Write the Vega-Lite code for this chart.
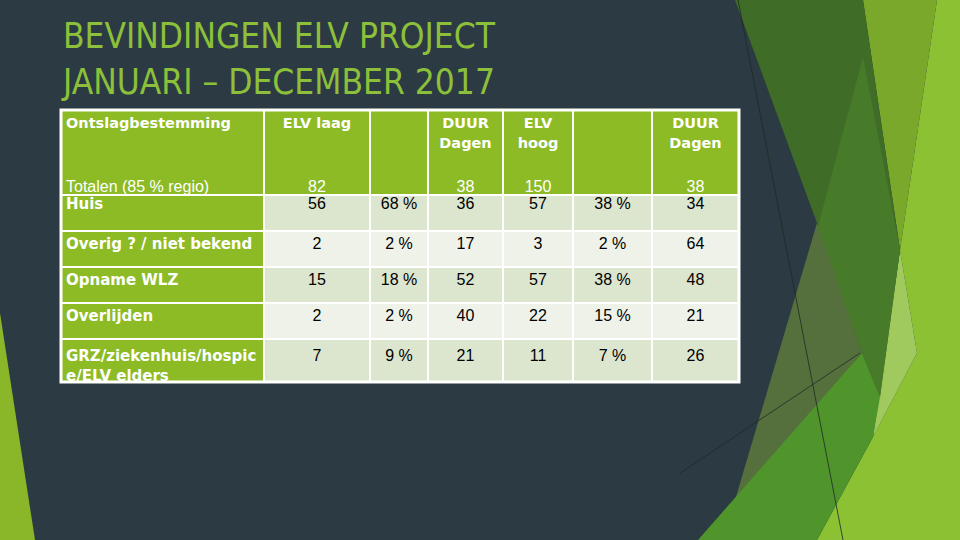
{
  "$schema": "https://vega.github.io/schema/vega-lite/v6.json",
  "width": 960,
  "height": 540,
  "autosize": {"type": "fit", "contains": "padding"},
  "padding": 0,
  "background": "#2c3a43",
  "config": {"view": {"stroke": null}},
  "datasets": {
    "decor": [
      {"type": "Feature", "properties": {"vorm": "limoen"}, "geometry": {"type": "Polygon", "coordinates": [[[937,0],[960,0],[960,540],[817,540],[873,437],[917,353],[900,250],[937,0]]]}},
      {"type": "Feature", "properties": {"vorm": "lichtolijf"}, "geometry": {"type": "Polygon", "coordinates": [[[863,0],[937,0],[900,250],[863,0]]]}},
      {"type": "Feature", "properties": {"vorm": "bleek"}, "geometry": {"type": "Polygon", "coordinates": [[[900,250],[917,353],[873,437],[900,250]]]}},
      {"type": "Feature", "properties": {"vorm": "donkergroen"}, "geometry": {"type": "Polygon", "coordinates": [[[735,0],[863,0],[900,250],[880,397],[862,353],[817,223],[735,0]]]}},
      {"type": "Feature", "properties": {"vorm": "middengroen"}, "geometry": {"type": "Polygon", "coordinates": [[[863,57],[900,250],[880,397],[862,353],[817,230],[863,57]]]}},
      {"type": "Feature", "properties": {"vorm": "olijf"}, "geometry": {"type": "Polygon", "coordinates": [[[817,223],[862,353],[733,507],[817,223]]]}},
      {"type": "Feature", "properties": {"vorm": "felgroen"}, "geometry": {"type": "Polygon", "coordinates": [[[862,353],[880,397],[873,437],[817,540],[698,540],[862,353]]]}},
      {"type": "Feature", "properties": {"vorm": "links"}, "geometry": {"type": "Polygon", "coordinates": [[[0,313],[35,540],[0,540],[0,313]]]}}
    ],
    "lijnen": [
      {"type": "Feature", "properties": {"vorm": "lijn"}, "geometry": {"type": "LineString", "coordinates": [[738,0],[843,540]]}},
      {"type": "Feature", "properties": {"vorm": "lijn"}, "geometry": {"type": "LineString", "coordinates": [[680,473],[860,353]]}}
    ],
    "titel": [
      {"regel": -2, "tekst": "BEVINDINGEN ELV PROJECT"},
      {"regel": -1, "tekst": "JANUARI – DECEMBER 2017"}
    ],
    "cellen": [
      {"rij": 0, "kol": 0, "tekst": "Ontslagbestemming", "totaal": "Totalen (85 % regio)"},
      {"rij": 0, "kol": 1, "tekst": "ELV laag", "totaal": "82"},
      {"rij": 0, "kol": 2, "tekst": "", "totaal": ""},
      {"rij": 0, "kol": 3, "tekst": "DUUR\nDagen", "totaal": "38"},
      {"rij": 0, "kol": 4, "tekst": "ELV\nhoog", "totaal": "150"},
      {"rij": 0, "kol": 5, "tekst": "", "totaal": ""},
      {"rij": 0, "kol": 6, "tekst": "DUUR\nDagen", "totaal": "38"},
      {"rij": 1, "kol": 0, "tekst": "Huis"},
      {"rij": 1, "kol": 1, "tekst": "56"},
      {"rij": 1, "kol": 2, "tekst": "68 %"},
      {"rij": 1, "kol": 3, "tekst": "36"},
      {"rij": 1, "kol": 4, "tekst": "57"},
      {"rij": 1, "kol": 5, "tekst": "38 %"},
      {"rij": 1, "kol": 6, "tekst": "34"},
      {"rij": 2, "kol": 0, "tekst": "Overig ? / niet bekend"},
      {"rij": 2, "kol": 1, "tekst": "2"},
      {"rij": 2, "kol": 2, "tekst": "2 %"},
      {"rij": 2, "kol": 3, "tekst": "17"},
      {"rij": 2, "kol": 4, "tekst": "3"},
      {"rij": 2, "kol": 5, "tekst": "2 %"},
      {"rij": 2, "kol": 6, "tekst": "64"},
      {"rij": 3, "kol": 0, "tekst": "Opname WLZ"},
      {"rij": 3, "kol": 1, "tekst": "15"},
      {"rij": 3, "kol": 2, "tekst": "18 %"},
      {"rij": 3, "kol": 3, "tekst": "52"},
      {"rij": 3, "kol": 4, "tekst": "57"},
      {"rij": 3, "kol": 5, "tekst": "38 %"},
      {"rij": 3, "kol": 6, "tekst": "48"},
      {"rij": 4, "kol": 0, "tekst": "Overlijden"},
      {"rij": 4, "kol": 1, "tekst": "2"},
      {"rij": 4, "kol": 2, "tekst": "2 %"},
      {"rij": 4, "kol": 3, "tekst": "40"},
      {"rij": 4, "kol": 4, "tekst": "22"},
      {"rij": 4, "kol": 5, "tekst": "15 %"},
      {"rij": 4, "kol": 6, "tekst": "21"},
      {"rij": 5, "kol": 0, "tekst": "GRZ/ziekenhuis/hospic\ne/ELV elders"},
      {"rij": 5, "kol": 1, "tekst": "7"},
      {"rij": 5, "kol": 2, "tekst": "9 %"},
      {"rij": 5, "kol": 3, "tekst": "21"},
      {"rij": 5, "kol": 4, "tekst": "11"},
      {"rij": 5, "kol": 5, "tekst": "7 %"},
      {"rij": 5, "kol": 6, "tekst": "26"}
    ]
  },
  "resolve": {"scale": {"color": "independent"}},
  "layer": [
    {
      "data": {"name": "decor"},
      "mark": {"type": "geoshape", "stroke": null},
      "projection": {"type": "identity", "scale": 1, "translate": [0, 0]},
      "encoding": {
        "color": {"field": "properties.vorm", "type": "nominal", "legend": null,
          "scale": {"domain": ["limoen","lichtolijf","bleek","donkergroen","middengroen","olijf","felgroen","links"],
                    "range": ["#8dc134","#79a82b","#a0c95e","#3f6c27","#477a29","#56703d","#4f952b","#8ab62a"]}}
      }
    },
    {
      "data": {"name": "lijnen"},
      "mark": {"type": "geoshape", "filled": false, "stroke": "#1f2b27", "strokeWidth": 1, "strokeOpacity": 0.8},
      "projection": {"type": "identity", "scale": 1, "translate": [0, 0]},
      "encoding": {}
    },
    {
      "data": {"name": "titel"},
      "mark": {"type": "text", "align": "left", "baseline": "alphabetic", "dx": 2, "font": "Liberation Sans Narrow, DejaVu Sans Condensed, sans-serif", "fontSize": 35, "color": "#8dc03a"},
      "encoding": {
        "x": {"datum": 0, "type": "quantitative", "axis": null, "scale": {"domain": [0,1,2,3,4,5,6,7], "range": [61,264,370,428,503,573,652,739], "nice": false, "zero": false}},
        "y": {"field": "regel", "type": "quantitative", "axis": null, "scale": {"domain": [-2,-1,0,1,2,3,4,5,6], "range": [48,94,110,195,231,267,303,339,382], "nice": false, "zero": false}},
        "text": {"field": "tekst"}
      }
    },
    {
      "data": {"name": "cellen"},
      "transform": [
        {"calculate": "datum.kol + 1", "as": "kol_eind"},
        {"calculate": "datum.rij + 1", "as": "rij_eind"},
        {"calculate": "datum.kol + 0.5", "as": "kol_mid"},
        {"calculate": "datum.rij == 1 ? 1.38 : datum.rij + 0.5", "as": "rij_tekst"},
        {"calculate": "(datum.rij == 0 || datum.kol == 0) ? 'groen' : (datum.rij % 2 == 1 ? 'donker' : 'licht')", "as": "vak"}
      ],
      "layer": [
        {
          "mark": {"type": "rect", "stroke": "white", "strokeWidth": 2},
          "encoding": {
            "x": {"field": "kol", "type": "quantitative", "axis": null, "scale": {"domain": [0,1,2,3,4,5,6,7], "range": [61,264,370,428,503,573,652,739], "nice": false, "zero": false}},
            "x2": {"field": "kol_eind"},
            "y": {"field": "rij", "type": "quantitative", "axis": null, "scale": {"domain": [-2,-1,0,1,2,3,4,5,6], "range": [48,94,110,195,231,267,303,339,382], "nice": false, "zero": false}},
            "y2": {"field": "rij_eind"},
            "color": {"field": "vak", "type": "nominal", "legend": null, "scale": {"domain": ["groen","donker","licht"], "range": ["#8cbb26","#dce6cf","#eef2e8"]}}
          }
        },
        {
          "transform": [{"filter": "datum.rij == 0 && datum.kol > 0"}],
          "mark": {"type": "text", "align": "center", "baseline": "alphabetic", "dy": 18, "lineBreak": "\n", "lineHeight": 20, "font": "DejaVu Sans", "fontWeight": "bold", "fontSize": 14.5, "color": "white"},
          "encoding": {
            "x": {"field": "kol_mid", "type": "quantitative"},
            "y": {"field": "rij", "type": "quantitative"},
            "text": {"field": "tekst"}
          }
        },
        {
          "transform": [{"filter": "datum.rij == 0 && datum.kol == 0"}],
          "mark": {"type": "text", "align": "left", "baseline": "alphabetic", "dx": 5, "dy": 18, "font": "DejaVu Sans", "fontWeight": "bold", "fontSize": 14.5, "color": "white"},
          "encoding": {
            "x": {"field": "kol", "type": "quantitative"},
            "y": {"field": "rij", "type": "quantitative"},
            "text": {"field": "tekst"}
          }
        },
        {
          "transform": [{"filter": "datum.rij == 0 && datum.kol > 0"}],
          "mark": {"type": "text", "align": "center", "baseline": "alphabetic", "dy": -3.5, "font": "Liberation Sans", "fontSize": 16, "color": "white"},
          "encoding": {
            "x": {"field": "kol_mid", "type": "quantitative"},
            "y": {"field": "rij_eind", "type": "quantitative"},
            "text": {"field": "totaal"}
          }
        },
        {
          "transform": [{"filter": "datum.rij == 0 && datum.kol == 0"}],
          "mark": {"type": "text", "align": "left", "baseline": "alphabetic", "dx": 5, "dy": -3.5, "font": "Liberation Sans", "fontSize": 16, "color": "white"},
          "encoding": {
            "x": {"field": "kol", "type": "quantitative"},
            "y": {"field": "rij_eind", "type": "quantitative"},
            "text": {"field": "totaal"}
          }
        },
        {
          "transform": [{"filter": "datum.rij > 0 && datum.kol == 0"}],
          "mark": {"type": "text", "align": "left", "baseline": "alphabetic", "dx": 5, "lineBreak": "\n", "lineHeight": 20, "font": "DejaVu Sans", "fontWeight": "bold", "fontSize": 15, "color": "white"},
          "encoding": {
            "x": {"field": "kol", "type": "quantitative"},
            "y": {"field": "rij_tekst", "type": "quantitative"},
            "text": {"field": "tekst"}
          }
        },
        {
          "transform": [{"filter": "datum.rij > 0 && datum.kol > 0"}],
          "mark": {"type": "text", "align": "center", "baseline": "alphabetic", "font": "Liberation Sans", "fontSize": 16, "color": "black"},
          "encoding": {
            "x": {"field": "kol_mid", "type": "quantitative"},
            "y": {"field": "rij_tekst", "type": "quantitative"},
            "text": {"field": "tekst"}
          }
        }
      ]
    },
    {
      "data": {"values": [{}]},
      "mark": {"type": "rect", "filled": false, "stroke": "white", "strokeWidth": 3},
      "encoding": {
        "x": {"datum": 0, "type": "quantitative"},
        "x2": {"datum": 7},
        "y": {"datum": 0, "type": "quantitative"},
        "y2": {"datum": 6}
      }
    }
  ]
}
